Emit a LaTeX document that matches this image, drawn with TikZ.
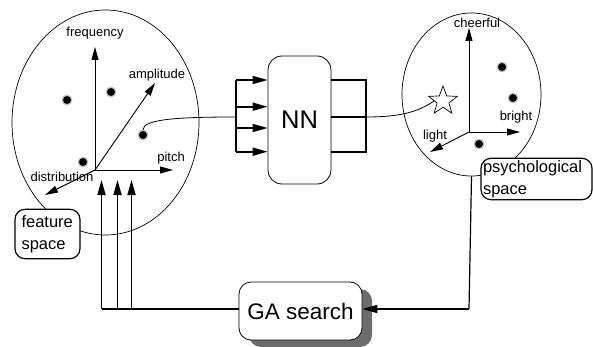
\documentclass[tikz,border=0pt]{standalone}
\usepackage{fontspec}
\setmainfont{Liberation Sans}
\usetikzlibrary{arrows.meta,shapes.geometric,shadows,calc}
\begin{document}
\begin{tikzpicture}[x=1pt,y=-1pt,
  space/.style={draw,ellipse,line width=0.7pt,inner sep=0pt},
  axis/.style={line width=0.9pt,-{Triangle[length=13pt,width=7pt]}},
  lbl/.style={font=\fontsize{13}{15}\selectfont,inner sep=0pt},
  dot/.style={circle,fill=black,draw=gray!50,line width=1.2pt,minimum size=9.5pt,inner sep=0pt},
  thick line/.style={line width=1.7pt},
  bigarrow/.style={line width=1.7pt,-{Triangle[length=15pt,width=8pt]}},
  tagbox/.style={draw,line width=1.2pt,rounded corners=10pt,fill=white,align=left,
     font=\fontsize{16.5}{22}\selectfont,inner sep=2pt},
  procbox/.style={draw,line width=0.8pt,fill=white,rounded corners=14pt}]
\useasboundingbox (0,0) rectangle (593,347);

% left feature space
\node[space,minimum width=187pt,minimum height=225pt] (fs) at (105.5,122.5) {};
\coordinate (o) at (95,170);
\coordinate (fq) at (95,47);
\coordinate (am) at (155,83);
\coordinate (pi) at (173,170);
\coordinate (di) at (45,195);
\draw[axis] (o) -- (fq);
\draw[axis] (o) -- (am);
\draw[axis] (o) -- (pi);
\draw[axis] (o) -- (di);
\node[lbl] (lfq) at (95,33) {frequency};
\node[lbl] (lam) at (157,75) {amplitude};
\node[lbl] (lpi) at (171,158) {pitch};
\node[lbl] (ldi) at (62,177) {distribution};
\node[dot] (d1) at (67,100) {};
\node[dot] (d2) at (111,92) {};
\node[dot] (d3) at (143,135) {};
\node[dot] (d4) at (83,162) {};
\node[tagbox,minimum width=65pt,minimum height=42pt,text width=52pt,inner sep=6pt] (fsl) at (47.5,234) {feature\\space};

% right psychological space
\node[space,minimum width=139pt,minimum height=163pt] (ps) at (471.5,94.5) {};
\coordinate (po) at (469,132);
\coordinate (ch) at (469,28);
\coordinate (br) at (520,132);
\coordinate (li) at (430,152);
\draw[axis] (po) -- (ch);
\draw[axis] (po) -- (br);
\draw[axis] (po) -- (li);
\node[lbl] (lch) at (477,23) {cheerful};
\node[lbl] (lbr) at (516,117) {bright};
\node[lbl] (lli) at (435,136) {light};
\node[dot] (p1) at (502,67) {};
\node[dot] (p2) at (513,98) {};
\node[dot] (p3) at (479,144) {};
\node[star,star points=5,star point ratio=2.4,draw,line width=0.7pt,minimum size=30pt,inner sep=0pt] (st) at (443,101) {};
\node[tagbox,minimum width=111pt,minimum height=40pt,text width=107pt,inner sep=2pt] (psl) at (536.5,179) {psychological\\space};

% NN
\node[procbox,minimum width=63pt,minimum height=128pt,font=\fontsize{25.5}{30}\selectfont] (NN) at (299.5,120) {NN};
\coordinate (ib) at (236,117);
\coordinate (it) at (236,80);
\coordinate (ibt) at (236,152);
\coordinate (i1) at (236,80);
\coordinate (i2) at (236,106.7);
\coordinate (i3) at (236,128);
\coordinate (i4) at (236,151.7);
\draw[thick line] (it) -- (ibt);
\draw[bigarrow] (i1) -- (i1 -| NN.west);
\draw[bigarrow] (i2) -- (i2 -| NN.west);
\draw[bigarrow] (i3) -- (i3 -| NN.west);
\draw[bigarrow] (i4) -- (i4 -| NN.west);
\draw[line width=0.8pt] (d3.north) .. controls (143,119) and (180,117) .. (ib);
\coordinate (o1) at (366,80);
\coordinate (o2) at (366,117);
\coordinate (o3) at (366,152);
\draw[thick line] (o1 -| NN.east) -- (o1) -- (o3) -- (o3 -| NN.east);
\draw[thick line] (o2 -| NN.east) -- (o2);
\draw[line width=0.8pt] (o2) .. controls (400,117) and (418,112) .. (st.west);

% GA search
\node[procbox,rounded corners=12pt,minimum width=123pt,minimum height=58pt,
  font=\fontsize{22.5}{27}\selectfont,
  drop shadow={shadow xshift=10pt,shadow yshift=-7pt,fill=gray!85!black,opacity=1}] (GA) at (300.5,311) {GA search};
\coordinate (gr) at (469,309);
\draw[line width=1.2pt] (ps.south) -- (gr);
\draw[line width=1.7pt,-{Triangle[length=15pt,width=8pt]}] (gr) -- (gr -| GA.east);
\coordinate (g1) at (101.5,309);
\coordinate (g2) at (117.5,309);
\coordinate (g3) at (131.5,309);
\draw[thick line] (GA.west |- g1) -- (g1);
\draw[bigarrow] (g1) -- (101.5,180);
\draw[bigarrow] (g2) -- (117.5,180);
\draw[bigarrow] (g3) -- (131.5,180);
\end{tikzpicture}
\end{document}
